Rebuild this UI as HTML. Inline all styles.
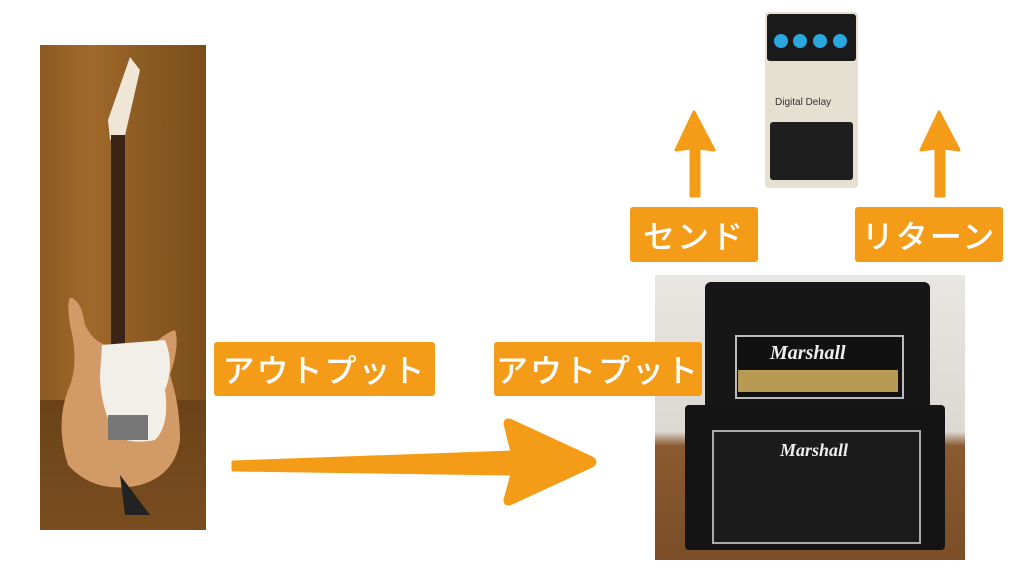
<!DOCTYPE html>
<html><head><meta charset="utf-8"><style>
body{margin:0;width:1024px;height:576px;background:#fff;position:relative;overflow:hidden;font-family:"Liberation Sans","Noto Sans CJK JP",sans-serif}
.lbl{position:absolute;background:#f49b17;color:#fff;border-radius:3px;font-size:32px;font-weight:500;display:flex;align-items:center;justify-content:center;letter-spacing:2px;white-space:nowrap;z-index:5}
.abs{position:absolute}
</style></head><body>
<!-- guitar photo -->
<div class="abs" style="left:40px;top:45px;width:166px;height:485px;background:linear-gradient(90deg,#8a5a22,#a0692a 30%,#8d5c24 60%,#7a4d1c);"></div>
<div class="abs" style="left:40px;top:400px;width:166px;height:130px;background:linear-gradient(180deg,#6b4218,#7a4d20)"></div>
<svg class="abs" style="left:40px;top:45px" width="166" height="485">
<path d="M68 75 L90 12 L100 25 L84 95 L70 95 Z" fill="#f0e6d6"/>
<rect x="71" y="90" width="14" height="240" fill="#3a2418"/>
<path d="M35 255 Q25 245 30 280 Q40 320 28 345 Q15 380 28 420 Q55 450 100 440 Q135 430 140 395 Q140 360 130 330 Q140 300 135 285 Q120 290 110 305 L85 300 L70 300 Q55 300 45 280 Q42 260 35 255 Z" fill="#d29a66"/>
<path d="M62 300 L125 295 Q135 320 125 345 Q130 380 115 395 Q90 400 75 390 Q60 360 60 330 Z" fill="#f2efe8"/>
<rect x="68" y="370" width="40" height="25" fill="#777"/>
<path d="M80 430 L110 470 L85 470 Z" fill="#222"/>
</svg>
<!-- main arrow -->
<svg class="abs" style="left:0;top:0" width="1024" height="576">
<path d="M233 462 L512 452 L505 424 Q505 418 512 421 L592 458 Q598 462 592 466 L512 503 Q505 506 505 500 L512 474 L233 470 Z" fill="#f49b17" stroke="#f49b17" stroke-width="3" stroke-linejoin="round"/>
<path d="M694 112 L676 150 L691 148 L691 196 L699 196 L699 148 L714 150 Z" fill="#f49b17" stroke="#f49b17" stroke-width="3" stroke-linejoin="round"/>
<path d="M939 112 L921 150 L936 148 L936 196 L944 196 L944 148 L959 150 Z" fill="#f49b17" stroke="#f49b17" stroke-width="3" stroke-linejoin="round"/>
</svg>
<!-- pedal -->
<div class="abs" style="left:765px;top:12px;width:93px;height:176px;background:#e6e0d0;border-radius:4px"></div>
<div class="abs" style="left:767px;top:14px;width:89px;height:47px;background:#1a1a1a;border-radius:3px"></div>
<div class="abs" style="left:774px;top:34px;width:14px;height:14px;border-radius:50%;background:#2ba7e0"></div>
<div class="abs" style="left:793px;top:34px;width:14px;height:14px;border-radius:50%;background:#2ba7e0"></div>
<div class="abs" style="left:813px;top:34px;width:14px;height:14px;border-radius:50%;background:#2ba7e0"></div>
<div class="abs" style="left:833px;top:34px;width:14px;height:14px;border-radius:50%;background:#2ba7e0"></div>
<div class="abs" style="left:775px;top:97px;font-size:10px;color:#333">Digital Delay</div>
<div class="abs" style="left:770px;top:122px;width:83px;height:58px;background:#1f1f1f;border-radius:3px"></div>
<!-- amp photo -->
<div class="abs" style="left:655px;top:275px;width:310px;height:285px;background:linear-gradient(180deg,#e8e6e2 0%,#dcd8d2 55%,#8a5a30 60%,#7b4e28 100%)"></div>
<div class="abs" style="left:705px;top:282px;width:225px;height:128px;background:#161616;border-radius:6px"></div>
<div class="abs" style="left:735px;top:335px;width:165px;height:60px;border:2px solid #bbb;background:#111"></div>
<div class="abs" style="left:738px;top:370px;width:160px;height:22px;background:#b89a55"></div>
<div class="abs" style="left:770px;top:342px;color:#eee;font:italic bold 20px 'Liberation Serif',serif">Marshall</div>
<div class="abs" style="left:685px;top:405px;width:260px;height:145px;background:#141414;border-radius:4px"></div>
<div class="abs" style="left:712px;top:430px;width:205px;height:110px;border:2px solid #aaa;background:#1b1b1b"></div>
<div class="abs" style="left:780px;top:440px;color:#eee;font:italic bold 18px 'Liberation Serif',serif">Marshall</div>
<!-- labels -->
<div class="lbl" style="left:214px;top:342px;width:221px;height:54px">アウトプット</div>
<div class="lbl" style="left:494px;top:342px;width:208px;height:54px">アウトプット</div>
<div class="lbl" style="left:630px;top:207px;width:128px;height:55px">センド</div>
<div class="lbl" style="left:855px;top:207px;width:148px;height:55px">リターン</div>
</body></html>
